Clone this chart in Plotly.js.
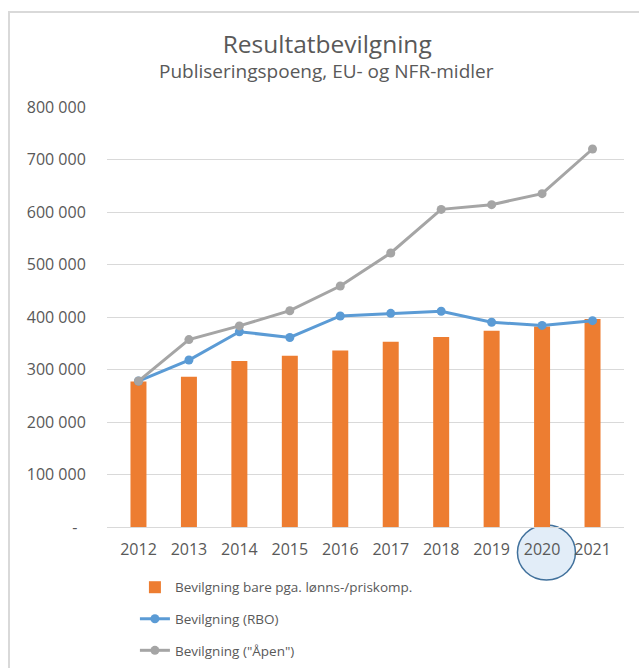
<!DOCTYPE html>
<html>
<head>
<meta charset="utf-8">
<script src="https://cdn.plot.ly/plotly-3.0.1.min.js"></script>
<style>
  html, body { margin: 0; padding: 0; background: #ffffff; }
  #chart { width: 639px; height: 668px; }
  #frame { position: absolute; left: 8px; top: 11px; width: 700px; height: 700px;
           border-left: 2px solid #d9d9d9; border-top: 2px solid #d9d9d9; pointer-events: none; }
</style>
</head>
<body>
<div id="chart"></div>
<div id="frame"></div>
<script>
const years = ['2012','2013','2014','2015','2016','2017','2018','2019','2020','2021'];
const barValues = [277000, 286000, 316000, 326000, 336000, 353000, 362000, 374000, 382000, 396000];
const rboValues = [278000, 318000, 372000, 361000, 402000, 407000, 411000, 390000, 384000, 393000];
const apenValues = [278000, 357000, 383000, 412000, 459000, 522000, 605000, 614000, 635000, 720000];
const tickVals = [0, 100000, 200000, 300000, 400000, 500000, 600000, 700000, 800000];
const tickText = ['-\u00a0\u00a0', '100 000', '200 000', '300 000', '400 000', '500 000', '600 000', '700 000', '800 000'];
const seriesNames = ['Bevilgning bare pga. lønns-/priskomp.', 'Bevilgning (RBO)', 'Bevilgning ("Åpen")'];
const titleText = 'Resultatbevilgning';
const subtitleText = 'Publiseringspoeng, EU- og NFR-midler';
const highlightYear = '2020';

const font = 'Open Sans, sans-serif';
const txt = '#595959';

const traces = [
  { type: 'bar', x: years, y: barValues, name: seriesNames[0], legendgroup: 'a',
    marker: { color: '#ED7D31' } },
  { type: 'scatter', mode: 'lines+markers', x: years, y: rboValues, name: seriesNames[1], legendgroup: 'b',
    line: { color: '#5B9BD5', width: 3 }, marker: { color: '#5B9BD5', size: 9 } },
  { type: 'scatter', mode: 'lines+markers', x: years, y: apenValues, name: seriesNames[2], legendgroup: 'c',
    line: { color: '#A5A5A5', width: 3 }, marker: { color: '#A5A5A5', size: 9 } }
];

// paper position of the highlighted category on the category axis (range -0.5 .. n-0.5)
const hiPaper = (years.indexOf(highlightYear) + 0.5) / years.length;

const layout = {
  width: 639, height: 668,
  margin: { l: 107, r: 15, t: 107, b: 141, autoexpand: false },
  paper_bgcolor: '#ffffff', plot_bgcolor: '#ffffff',
  font: { family: font, color: txt, size: 16 },
  bargap: 0.683,
  showlegend: true,
  title: { text: titleText, font: { family: font, size: 24.5, color: txt },
           xref: 'container', yref: 'container', x: 0.512, y: 0.934, xanchor: 'center', yanchor: 'middle' },
  annotations: [
    { text: subtitleText, xref: 'paper', yref: 'paper', x: 0.4255, y: 1.086, xanchor: 'center', yanchor: 'middle',
      showarrow: false, font: { family: font, size: 19, color: txt } }
  ],
  xaxis: { type: 'category', showgrid: false, zeroline: false, showline: false,
           ticks: 'outside', ticklen: 8, tickcolor: 'rgba(0,0,0,0)', tickangle: 0, automargin: false,
           tickfont: { family: font, size: 16, color: txt }, fixedrange: true },
  yaxis: { range: [0, 800000], tickvals: tickVals, ticktext: tickText, showgrid: true, automargin: false,
           gridcolor: '#d9d9d9', gridwidth: 1, zeroline: true, zerolinecolor: '#d9d9d9', zerolinewidth: 1,
           showline: false, ticks: 'outside', ticklen: 17, tickcolor: 'rgba(0,0,0,0)',
           tickfont: { family: font, size: 16, color: txt }, fixedrange: true },
  legend: { orientation: 'v', xref: 'paper', yref: 'paper', x: 0.054, y: -0.107,
            xanchor: 'left', yanchor: 'top', traceorder: 'grouped', tracegroupgap: 11,
            font: { family: font, size: 13.5, color: txt }, bgcolor: 'rgba(0,0,0,0)' },
  shapes: [
    { type: 'circle', layer: 'below', xref: 'paper', yref: 'paper',
      xsizemode: 'pixel', ysizemode: 'pixel', xanchor: hiPaper, yanchor: 0,
      x0: -29, x1: 29, y0: -53, y1: 2,
      fillcolor: '#e2edf8', line: { color: '#41719C', width: 1.5 } }
  ]
};

Plotly.newPlot('chart', traces, layout, { displayModeBar: false, staticPlot: true });
</script>
</body>
</html>
